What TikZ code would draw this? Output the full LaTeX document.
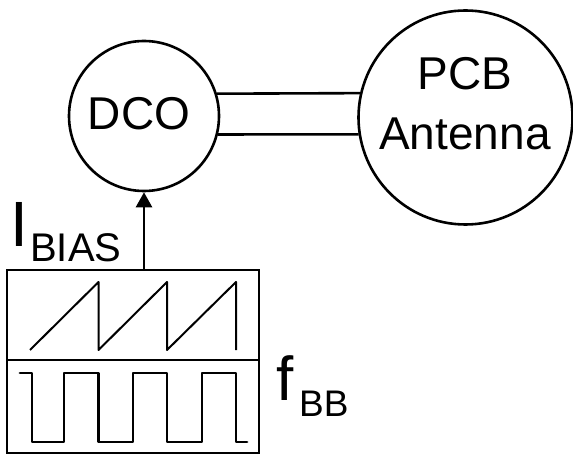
\documentclass[tikz,border=0pt]{standalone}
\usepackage{fontspec}
\setmainfont{Liberation Sans}
\usetikzlibrary{arrows.meta}
\tikzset{
  blk/.style={draw=black, line width=2.6pt},
  ring/.style={blk, circle, inner sep=0pt},
  wire/.style={line width=2.6pt},
  saw/.style={line width=2pt, line join=round},
  sq/.style={line width=2.8pt, line join=round, line cap=round},
  lbl/.style={inner sep=0pt, anchor=base west},
}
\begin{document}
\begin{tikzpicture}[x=1pt, y=-1pt]
\useasboundingbox (0,0) rectangle (573,454);
% DCO
\node[ring, minimum size=150pt] (dco) at (144,116) {};
\node[inner sep=0pt, font=\fontsize{46pt}{56pt}\selectfont] (dcotxt) at (139,113.5) {DCO};
% Antenna
\node[ring, minimum size=214pt] (ant) at (465.5,117.5) {};
\node[inner sep=0pt, align=center, font=\fontsize{46pt}{60pt}\selectfont] (anttxt) at (465,103.5) {PCB\\Antenna};
% transmission lines
\draw[wire] (dco.17) -- (ant.167.3);
\draw[wire] (dco.-14.7) -- (ant.189.4);
% waveform box
\node[blk, rectangle, minimum width=252pt, minimum height=183pt, inner sep=0pt] (box) at (133,361.5) {};
\coordinate (dl) at (7,360);
\coordinate (dr) at (259,360);
\draw[line width=2.6pt] (dl) -- (dr);
% arrow
\draw[wire, -{Triangle[width=16pt,length=15pt]}] (box.north -| dco.south) -- (dco.south);
% sawtooth
\draw[saw] (30,350) -- (98.5,282) -- (98.5,350) -- (167,282) -- (167,350) -- (236,282) -- (236,350);
% square wave
\draw[sq] (20,373) -- (32,373) -- (32,442) -- (64,442) -- (64,373) -- (98.5,373) -- (98.5,442)
  -- (133,442) -- (133,373) -- (167,373) -- (167,442) -- (202,442) -- (202,373)
  -- (236,373) -- (236,442) -- (247,442);
% labels
\node[lbl, font=\fontsize{64pt}{70pt}\selectfont] (ilab) at (10,247) {I};
\node[lbl, font=\fontsize{40pt}{44pt}\selectfont] (isub) at (30,262) {BIAS};
\node[lbl, font=\fontsize{62pt}{70pt}\selectfont] (flab) at (276.5,400) {f};
\node[lbl, font=\fontsize{37pt}{40pt}\selectfont] (fsub) at (299,416) {BB};
\end{tikzpicture}
\end{document}
